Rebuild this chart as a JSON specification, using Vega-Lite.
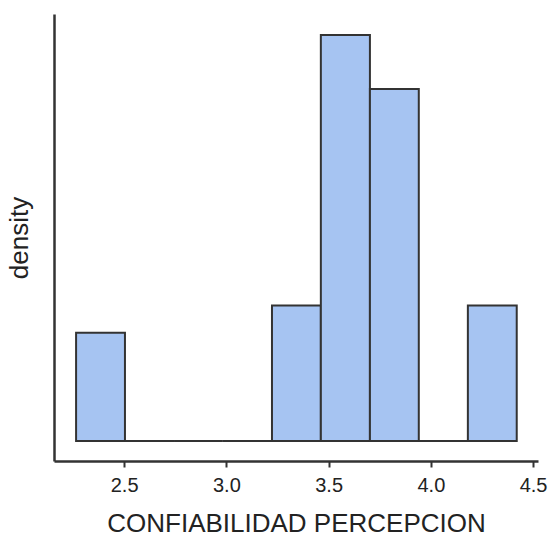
{
  "$schema": "https://vega.github.io/schema/vega-lite/v6.json",
  "width": 484,
  "height": 447,
  "autosize": {"type": "none"},
  "padding": {"left": 54, "top": 14, "right": 12, "bottom": 75},
  "background": "white",
  "config": {"view": {"stroke": null}, "font": "Liberation Sans"},
  "data": {
    "values": [
      {"start": 2.265, "end": 2.504, "density": 0.398},
      {"start": 2.504, "end": 2.744, "density": 0},
      {"start": 2.744, "end": 2.983, "density": 0},
      {"start": 2.983, "end": 3.223, "density": 0},
      {"start": 3.223, "end": 3.462, "density": 0.498},
      {"start": 3.462, "end": 3.702, "density": 1.493},
      {"start": 3.702, "end": 3.941, "density": 1.294},
      {"start": 3.941, "end": 4.181, "density": 0},
      {"start": 4.181, "end": 4.420, "density": 0.498}
    ]
  },
  "mark": {"type": "bar", "fill": "#a6c4f2", "stroke": "#333333", "strokeWidth": 2, "opacity": 1},
  "encoding": {
    "x": {
      "field": "start", "type": "quantitative",
      "scale": {"domain": [2.157, 4.524], "nice": false, "zero": false},
      "axis": {
        "title": "CONFIABILIDAD PERCEPCION",
        "values": [2.5, 3.0, 3.5, 4.0, 4.5],
        "format": ".1f",
        "grid": false,
        "domainColor": "#333333", "domainWidth": 2.5,
        "tickColor": "#333333", "tickWidth": 2, "tickSize": 6,
        "labelColor": "#222222", "labelFontSize": 20, "labelPadding": 8,
        "titleColor": "#222222", "titleFontSize": 26, "titleFontWeight": "normal", "titlePadding": 15
      }
    },
    "x2": {"field": "end"},
    "y": {
      "field": "density", "type": "quantitative",
      "scale": {"domain": [-0.0736, 1.570], "nice": false, "zero": false},
      "axis": {
        "title": "density",
        "grid": false, "ticks": false, "labels": false,
        "domainColor": "#333333", "domainWidth": 2.5,
        "titleColor": "#222222", "titleFontSize": 26, "titleFontWeight": "normal", "titlePadding": 22
      }
    },
    "y2": {"datum": 0}
  }
}
